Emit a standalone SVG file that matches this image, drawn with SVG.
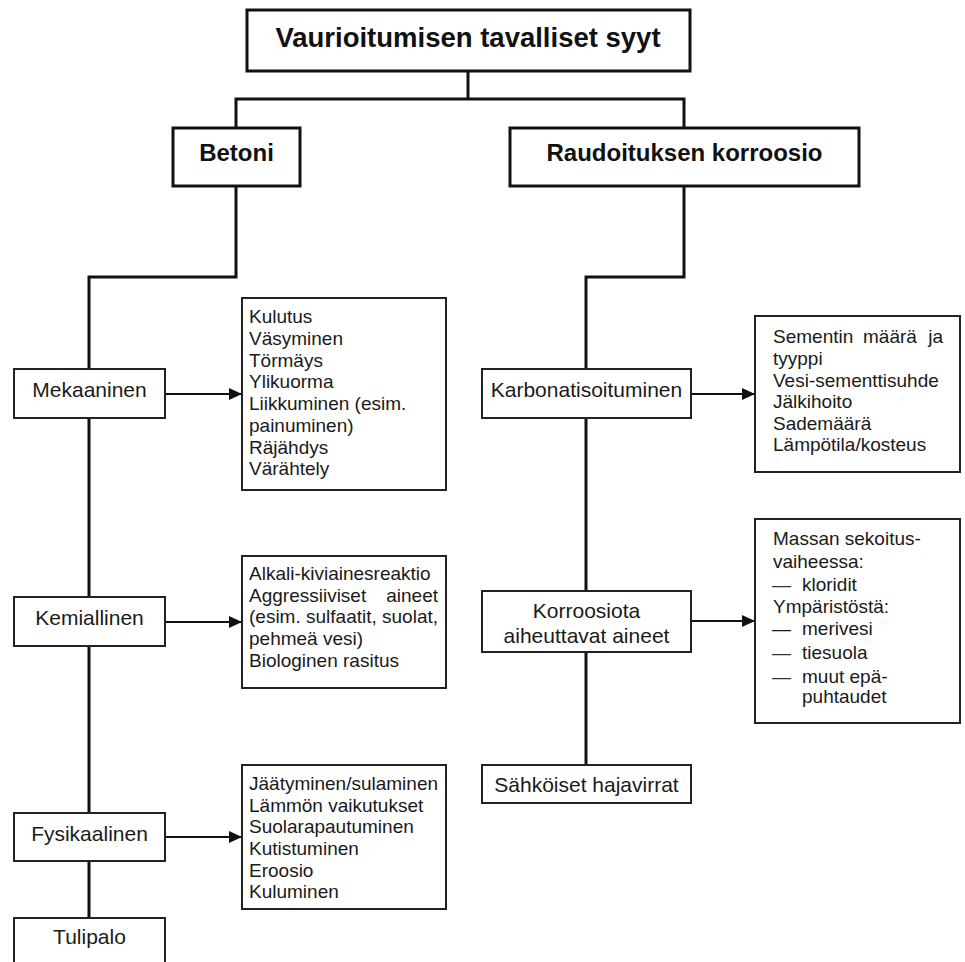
<svg xmlns="http://www.w3.org/2000/svg" width="965" height="962" viewBox="0 0 965 962">
<defs>
<style>
.b1{fill:#fff;stroke:#111;stroke-width:3}
.b2{fill:#fff;stroke:#222;stroke-width:2}
.c{fill:none;stroke:#111;stroke-width:3}
.a{fill:none;stroke:#111;stroke-width:2}
.h{font-family:"Liberation Sans",Arial,sans-serif;font-weight:bold;fill:#111}
.n{font-family:"Liberation Sans",Arial,sans-serif;font-size:21px;fill:#1a1a1a;text-anchor:middle}
.l{font-family:"Liberation Sans",Arial,sans-serif;font-size:19px;fill:#1a1a1a}
.d{fill:#333}
</style>
<marker id="arr" markerUnits="userSpaceOnUse" markerWidth="13" markerHeight="12" refX="13" refY="6" orient="auto">
<path d="M0,0 L13,6 L0,12 z" fill="#111"/>
</marker>
</defs>
<rect width="965" height="962" fill="#fff"/>
<g id="connectors">
<path class="c" d="M468,71 V99 M236,128 V99 H684 V128"/>
<path class="c" d="M236,186 V277 H89 V369 M89,418 V597 M89,646 V813 M89,861 V918"/>
<path class="c" d="M684,186 V277 H586 V369 M586,418 V591 M586,652 V765"/>
<line class="a" x1="165" y1="394" x2="242" y2="394" marker-end="url(#arr)"/>
<line class="a" x1="165" y1="622" x2="242" y2="622" marker-end="url(#arr)"/>
<line class="a" x1="165" y1="837" x2="242" y2="837" marker-end="url(#arr)"/>
<line class="a" x1="691" y1="394" x2="755" y2="394" marker-end="url(#arr)"/>
<line class="a" x1="691" y1="621" x2="755" y2="621" marker-end="url(#arr)"/>
</g>
<g id="root">
<rect class="b1" x="247" y="10" width="443" height="61"/>
<text class="h" x="468" y="47" font-size="27.5" text-anchor="middle">Vaurioitumisen tavalliset syyt</text>
</g>
<g id="betoni">
<rect class="b1" x="173" y="128" width="127" height="58"/>
<text class="h" x="236.5" y="161" font-size="24" text-anchor="middle">Betoni</text>
</g>
<g id="raudoitus">
<rect class="b1" x="510" y="128" width="349" height="58"/>
<text class="h" x="684.5" y="161" font-size="24" text-anchor="middle">Raudoituksen korroosio</text>
</g>
<g id="mekaaninen">
<rect class="b2" x="14" y="369" width="151" height="49"/>
<text class="n" x="89.5" y="397">Mekaaninen</text>
</g>
<g id="mek-list">
<rect class="b2" x="242" y="298" width="204" height="192"/>
<text class="l" x="249" y="323">Kulutus</text>
<text class="l" x="249" y="345">Väsyminen</text>
<text class="l" x="249" y="367">Törmäys</text>
<text class="l" x="249" y="388">Ylikuorma</text>
<text class="l" x="249" y="410">Liikkuminen (esim.</text>
<text class="l" x="249" y="432">painuminen)</text>
<text class="l" x="249" y="454">Räjähdys</text>
<text class="l" x="249" y="475">Värähtely</text>
</g>
<g id="kemiallinen">
<rect class="b2" x="14" y="597" width="151" height="49"/>
<text class="n" x="89.5" y="625">Kemiallinen</text>
</g>
<g id="kem-list">
<rect class="b2" x="242" y="556" width="204" height="132"/>
<text class="l" x="249" y="580">Alkali-kiviainesreaktio</text>
<text class="l" x="249" y="602">Aggressiiviset</text>
<text class="l" x="438" y="602" text-anchor="end">aineet</text>
<text class="l" x="249" y="623">(esim. sulfaatit, suolat,</text>
<text class="l" x="249" y="645">pehmeä vesi)</text>
<text class="l" x="249" y="667">Biologinen rasitus</text>
</g>
<g id="fysikaalinen">
<rect class="b2" x="14" y="813" width="151" height="48"/>
<text class="n" x="89.5" y="841">Fysikaalinen</text>
</g>
<g id="fys-list">
<rect class="b2" x="242" y="765" width="204" height="144"/>
<text class="l" x="249" y="790">Jäätyminen/sulaminen</text>
<text class="l" x="249" y="812">Lämmön vaikutukset</text>
<text class="l" x="249" y="833">Suolarapautuminen</text>
<text class="l" x="249" y="855">Kutistuminen</text>
<text class="l" x="249" y="877">Eroosio</text>
<text class="l" x="249" y="898">Kuluminen</text>
</g>
<g id="tulipalo">
<rect class="b2" x="14" y="918" width="151" height="60"/>
<text class="n" x="89.5" y="944">Tulipalo</text>
</g>
<g id="karbonatisoituminen">
<rect class="b2" x="482" y="369" width="209" height="49"/>
<text class="n" x="586.5" y="397">Karbonatisoituminen</text>
</g>
<g id="karb-list">
<rect class="b2" x="755" y="316" width="205" height="156"/>
<text class="l" x="773" y="343">Sementin</text>
<text class="l" x="863" y="343">määrä</text>
<text class="l" x="943" y="343" text-anchor="end">ja</text>
<text class="l" x="773" y="365">tyyppi</text>
<text class="l" x="773" y="387">Vesi-sementtisuhde</text>
<text class="l" x="773" y="408">Jälkihoito</text>
<text class="l" x="773" y="430">Sademäärä</text>
<text class="l" x="773" y="451">Lämpötila/kosteus</text>
</g>
<g id="korroosiota">
<rect class="b2" x="482" y="591" width="209" height="61"/>
<text class="n" x="586.5" y="618">Korroosiota</text>
<text class="n" x="586.5" y="643">aiheuttavat aineet</text>
</g>
<g id="korr-list">
<rect class="b2" x="755" y="519" width="205" height="204"/>
<text class="l" x="773" y="545">Massan sekoitus-</text>
<text class="l" x="773" y="568">vaiheessa:</text>
<text class="l d" x="772" y="591">—</text>
<text class="l" x="802" y="591">kloridit</text>
<text class="l" x="773" y="613">Ympäristöstä:</text>
<text class="l" x="772" y="635">—</text>
<text class="l" x="802" y="635">merivesi</text>
<text class="l d" x="772" y="659">—</text>
<text class="l" x="802" y="659">tiesuola</text>
<text class="l d" x="772" y="683">—</text>
<text class="l" x="802" y="683">muut epä-</text>
<text class="l" x="802" y="703">puhtaudet</text>
</g>
<g id="sahkoiset">
<rect class="b2" x="482" y="765" width="209" height="38"/>
<text class="n" x="586.5" y="792">Sähköiset hajavirrat</text>
</g>
</svg>
